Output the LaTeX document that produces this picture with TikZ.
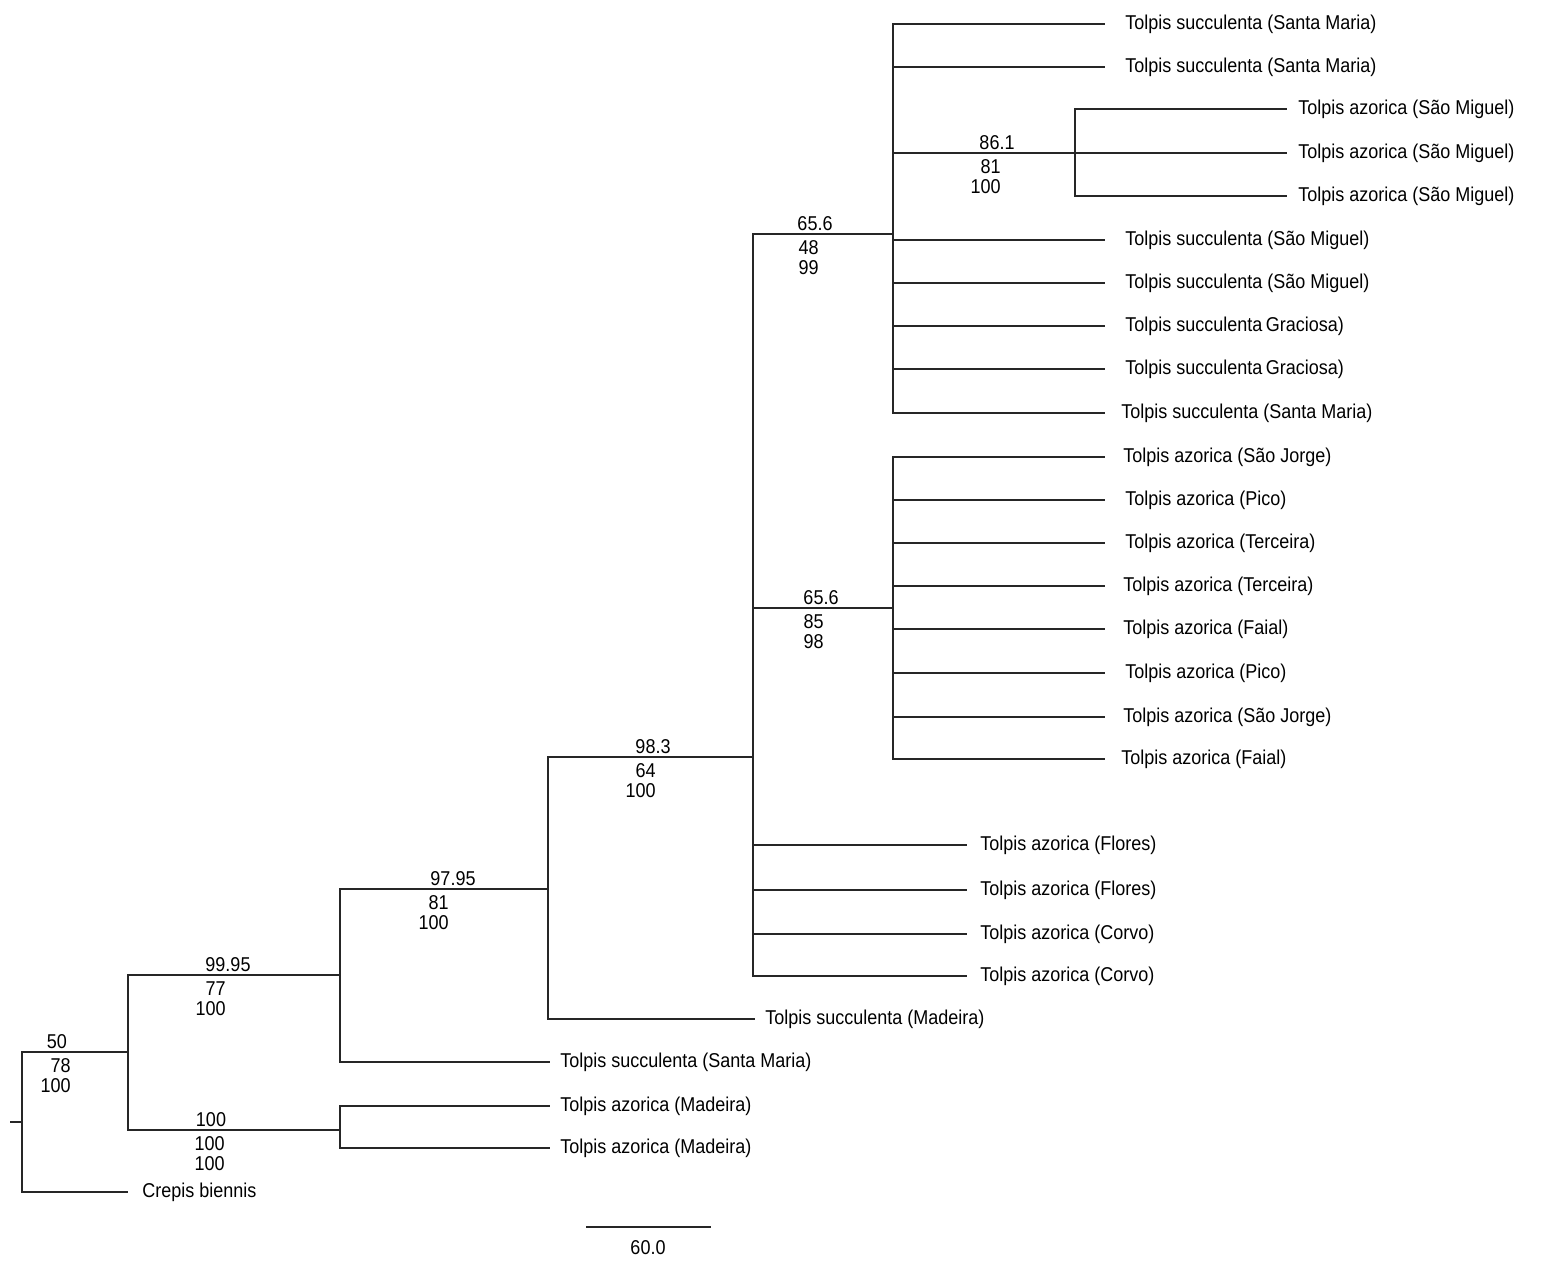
\documentclass[tikz,border=0pt]{standalone}
\usepackage{fontspec}
\setmainfont{Liberation Sans}[FakeStretch=0.9]

\begin{document}
\begin{tikzpicture}[
  x=0.5pt,y=-0.5pt,
  branch/.style={draw=black!85,line width=0.9pt},
  taxon/.style={anchor=west,inner xsep=#1,inner ysep=0pt,font=\fontsize{10}{10}\selectfont},
  taxon/.default=5pt,
  boot/.style={inner sep=0pt,font=\fontsize{10}{10}\selectfont,anchor=base},
  bootlow/.style={inner sep=0pt,font=\fontsize{10}{10}\selectfont,align=right,anchor=north east}
]
  \fill[white] (0,0) rectangle (1541,1260);
  \useasboundingbox (0,0) rectangle (1541,1260);

  \coordinate (stub) at (10,1122);
  \coordinate (root) at (22,1122);
  \coordinate (nA) at (128,1052);
  \coordinate (nB) at (340,975);
  \coordinate (nC) at (340,1130);
  \coordinate (nD) at (548,889);
  \coordinate (nE) at (753,757);
  \coordinate (nF) at (893,234);
  \coordinate (nG) at (893,608);
  \coordinate (nH) at (1075,153);

  \node[taxon=10pt] (tsSM1) at (1105,24) {Tolpis succulenta (Santa Maria)};
  \node[taxon=10pt] (tsSM2) at (1105,67) {Tolpis succulenta (Santa Maria)};
  \node[taxon=5.5pt] (taMig1) at (1287,109) {Tolpis azorica (São Miguel)};
  \node[taxon=5.5pt] (taMig2) at (1287,153) {Tolpis azorica (São Miguel)};
  \node[taxon=5.5pt] (taMig3) at (1287,196) {Tolpis azorica (São Miguel)};
  \node[taxon=10pt] (tsMig1) at (1105,240) {Tolpis succulenta (São Miguel)};
  \node[taxon=10pt] (tsMig2) at (1105,283) {Tolpis succulenta (São Miguel)};
  \node[taxon=10pt] (tsGra1) at (1105,326) {Tolpis succulenta\,Graciosa)};
  \node[taxon=10pt] (tsGra2) at (1105,369) {Tolpis succulenta\,Graciosa)};
  \node[taxon=8pt] (tsSM3) at (1105,413) {Tolpis succulenta (Santa Maria)};

  \node[taxon=9pt] (taJor1) at (1105,457) {Tolpis azorica (São Jorge)};
  \node[taxon=10pt] (taPic1) at (1105,500) {Tolpis azorica (Pico)};
  \node[taxon=10pt] (taTer1) at (1105,543) {Tolpis azorica (Terceira)};
  \node[taxon=9pt] (taTer2) at (1105,586) {Tolpis azorica (Terceira)};
  \node[taxon=9pt] (taFai1) at (1105,629) {Tolpis azorica (Faial)};
  \node[taxon=10pt] (taPic2) at (1105,673) {Tolpis azorica (Pico)};
  \node[taxon=9pt] (taJor2) at (1105,717) {Tolpis azorica (São Jorge)};
  \node[taxon=8pt] (taFai2) at (1105,759) {Tolpis azorica (Faial)};

  \node[taxon=6.5pt] (taFlo1) at (967,845) {Tolpis azorica (Flores)};
  \node[taxon=6.5pt] (taFlo2) at (967,890) {Tolpis azorica (Flores)};
  \node[taxon=6.5pt] (taCor1) at (967,934) {Tolpis azorica (Corvo)};
  \node[taxon=6.5pt] (taCor2) at (967,976) {Tolpis azorica (Corvo)};
  \node[taxon] (tsMad) at (755,1019) {Tolpis succulenta (Madeira)};
  \node[taxon] (tsSM0) at (550,1062) {Tolpis succulenta (Santa Maria)};
  \node[taxon] (taMad1) at (550,1106) {Tolpis azorica (Madeira)};
  \node[taxon] (taMad2) at (550,1148) {Tolpis azorica (Madeira)};
  \node[taxon=7pt] (crepis) at (128,1192) {Crepis biennis};

  \draw[branch] (stub) -- (root);
  \draw[branch] (root) |- (nA);
  \draw[branch] (root) |- (crepis);
  \draw[branch] (nA) |- (nB);
  \draw[branch] (nA) |- (nC);
  \draw[branch] (nC) |- (taMad1);
  \draw[branch] (nC) |- (taMad2);
  \draw[branch] (nB) |- (nD);
  \draw[branch] (nB) |- (tsSM0);
  \draw[branch] (nD) |- (nE);
  \draw[branch] (nD) |- (tsMad);
  \draw[branch] (nE) |- (nF);
  \draw[branch] (nE) |- (nG);
  \foreach \t in {taFlo1,taFlo2,taCor1,taCor2}
    \draw[branch] (nE) |- (\t);
  \draw[branch] (nF) |- (nH);
  \foreach \t in {tsSM1,tsSM2,tsMig1,tsMig2,tsGra1,tsGra2,tsSM3}
    \draw[branch] (nF) |- (\t);
  \foreach \t in {taMig1,taMig2,taMig3}
    \draw[branch] (nH) |- (\t);
  \foreach \t in {taJor1,taPic1,taTer1,taTer2,taFai1,taPic2,taJor2,taFai2}
    \draw[branch] (nG) |- (\t);

  \node[boot] (bsA) at (57,1048) {50};
  \node[bootlow] (bsA2) at (71,1058) {78\\100};
  \node[boot] (bsB) at (228,971) {99.95};
  \node[bootlow] (bsB2) at (226,981) {77\\100};
  \node[boot] (bsC) at (211,1126) {100};
  \node[bootlow] (bsC2) at (225,1136) {100\\100};
  \node[boot] (bsD) at (453,885) {97.95};
  \node[bootlow] (bsD2) at (449,895) {81\\100};
  \node[boot] (bsE) at (653,753) {98.3};
  \node[bootlow] (bsE2) at (656,763) {64\\100};
  \node[boot] (bsF) at (815,230) {65.6};
  \node[bootlow] (bsF2) at (819,240) {48\\99};
  \node[boot] (bsG) at (821,604) {65.6};
  \node[bootlow] (bsG2) at (824,614) {85\\98};
  \node[boot] (bsH) at (997,149) {86.1};
  \node[bootlow] (bsH2) at (1001,159) {81\\100};

  \coordinate (barL) at (586,1227);
  \coordinate (barR) at (711,1227);
  \draw[branch] (barL) -- (barR);
  \node[boot,anchor=center] (barlab) at (648,1248) {60.0};
\end{tikzpicture}
\end{document}
